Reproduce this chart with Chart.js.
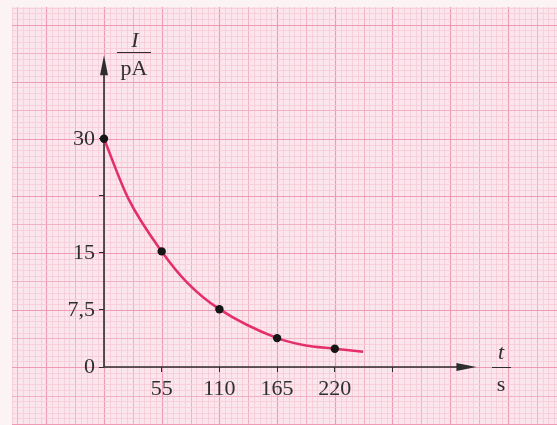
<!DOCTYPE html>
<html>
<head>
<meta charset="utf-8">
<script src="https://cdn.jsdelivr.net/npm/chart.js@4"></script>
<style>
  html, body { margin: 0; padding: 0; background: #fbf3f4; }
  canvas { display: block; }
</style>
</head>
<body>
<canvas id="chart" width="557" height="425"></canvas>
<script>
const tValues = [0, 55, 110, 165, 220];
const iValues = [30, 15.2, 7.6, 3.8, 2.4];
// points lus le long de la courbe
const curveT = [0, 23, 55, 80, 110, 165, 190, 220, 247];
const curveI = [30, 22.2, 15.2, 11.0, 7.6, 3.8, 2.9, 2.4, 2.0];
// graduations
const xTicks = [55, 110, 165, 220, 275];
const xTickLabels = ['55', '110', '165', '220', ''];
const yTicks = [0, 7.5, 15, 22.5, 30];
const yTickLabels = ['0', '7,5', '15', '', '30'];

const serif = '"Liberation Serif", "DejaVu Serif", serif';
const ink = '#2e2e2e';

// papier millimétré
const paper = {
  id: 'paper',
  beforeDraw(chart) {
    const c = chart.ctx, x = chart.scales.x, y = chart.scales.y;
    const W = chart.width, H = chart.height;
    c.save();
    c.fillStyle = '#fbf3f4';
    c.fillRect(0, 0, W, H);
    c.fillStyle = '#fce6ed';
    c.fillRect(12, 7, W - 12, H - 7);
    c.beginPath(); c.rect(12, 7, W - 12, H - 7); c.clip();
    const style = k => k === 0 ? ['#ee9cb6', 1.2] : k === 5 ? ['#f2b2c6', 1] : ['#f6cad7', 0.8];
    for (let k = -30; k <= 90; k++) {
      const px = Math.round(x.getPixelForValue(k * 5.5)) + 0.5;
      if (px < 0 || px > W) continue;
      const [col, lw] = style(((k % 10) + 10) % 10);
      c.strokeStyle = col; c.lineWidth = lw;
      c.beginPath(); c.moveTo(px, 0); c.lineTo(px, H); c.stroke();
    }
    for (let k = -20; k <= 80; k++) {
      const py = Math.round(y.getPixelForValue(k * 0.75)) + 0.5;
      if (py < 0 || py > H) continue;
      const [col, lw] = style(((k % 10) + 10) % 10);
      c.strokeStyle = col; c.lineWidth = lw;
      c.beginPath(); c.moveTo(0, py); c.lineTo(W, py); c.stroke();
    }
    c.restore();
  }
};

// axes fléchés et grandeurs
const axes = {
  id: 'axes',
  beforeDatasetsDraw(chart) {
    const c = chart.ctx, x = chart.scales.x, y = chart.scales.y;
    const x0 = x.getPixelForValue(0), y0 = y.getPixelForValue(0);
    const xEnd = x.getPixelForValue(355), yEnd = y.getPixelForValue(41);
    c.save();
    c.strokeStyle = ink; c.fillStyle = ink; c.lineWidth = 1.6;
    c.beginPath();
    c.moveTo(x0, y0); c.lineTo(xEnd - 10, y0);
    c.moveTo(x0, y0); c.lineTo(x0, yEnd + 10);
    c.stroke();
    c.beginPath();
    c.moveTo(xEnd, y0); c.lineTo(xEnd - 20, y0 - 4); c.lineTo(xEnd - 20, y0 + 4); c.closePath();
    c.moveTo(x0, yEnd); c.lineTo(x0 - 4, yEnd + 20); c.lineTo(x0 + 4, yEnd + 20); c.closePath();
    c.fill();

    c.textAlign = 'center'; c.textBaseline = 'alphabetic';
    // I / pA
    c.font = 'italic 22px ' + serif;
    c.fillText('I', 135, 47);
    c.lineWidth = 1;
    c.beginPath(); c.moveTo(117, 52.5); c.lineTo(151, 52.5); c.stroke();
    c.font = '22px ' + serif;
    c.fillText('pA', 134, 75);
    // t / s
    c.font = 'italic 22px ' + serif;
    c.fillText('t', 501, 359);
    c.beginPath(); c.moveTo(492, 367.5); c.lineTo(511, 367.5); c.stroke();
    c.font = '22px ' + serif;
    c.fillText('s', 501, 391);
    c.restore();
  }
};

const noPadding = s => { s.paddingTop = 0; s.paddingBottom = 0; s.paddingLeft = 0; s.paddingRight = 0; };

new Chart(document.getElementById('chart'), {
  type: 'scatter',
  data: {
    datasets: [
      {
        label: 'courbe',
        data: curveT.map((t, i) => ({ x: t, y: curveI[i] })),
        showLine: true,
        borderColor: '#e3306b',
        borderWidth: 2.6,
        pointRadius: 0,
        cubicInterpolationMode: 'monotone',
        clip: false,
        order: 2
      },
      {
        label: 'mesures',
        data: tValues.map((t, i) => ({ x: t, y: iValues[i] })),
        pointRadius: 4.2,
        pointBackgroundColor: '#151515',
        pointBorderWidth: 0,
        clip: false,
        order: 1
      }
    ]
  },
  options: {
    responsive: false,
    animation: false,
    layout: { padding: 0 },
    plugins: { legend: { display: false }, tooltip: { enabled: false } },
    scales: {
      x: {
        type: 'linear',
        min: 0,
        max: 427.8,
        position: 'bottom',
        afterFit: s => { s.height = 58; noPadding(s); },
        afterBuildTicks: s => { s.ticks = xTicks.map(v => ({ value: v })); },
        ticks: {
          callback: (v, i) => xTickLabels[i],
          color: ink,
          font: { family: serif, size: 22 },
          padding: 4,
          maxRotation: 0,
          autoSkip: false
        },
        grid: { drawOnChartArea: false, tickLength: 5, color: ink },
        border: { display: false }
      },
      y: {
        type: 'linear',
        min: 0,
        max: 47.7,
        position: 'left',
        afterFit: s => { s.width = 104; noPadding(s); },
        afterBuildTicks: s => { s.ticks = yTicks.map(v => ({ value: v })); },
        ticks: {
          callback: (v, i) => yTickLabels[i],
          color: ink,
          font: { family: serif, size: 22 },
          padding: 4,
          autoSkip: false
        },
        grid: { drawOnChartArea: false, tickLength: 5, color: ink },
        border: { display: false }
      }
    }
  },
  plugins: [paper, axes]
});
</script>
</body>
</html>
